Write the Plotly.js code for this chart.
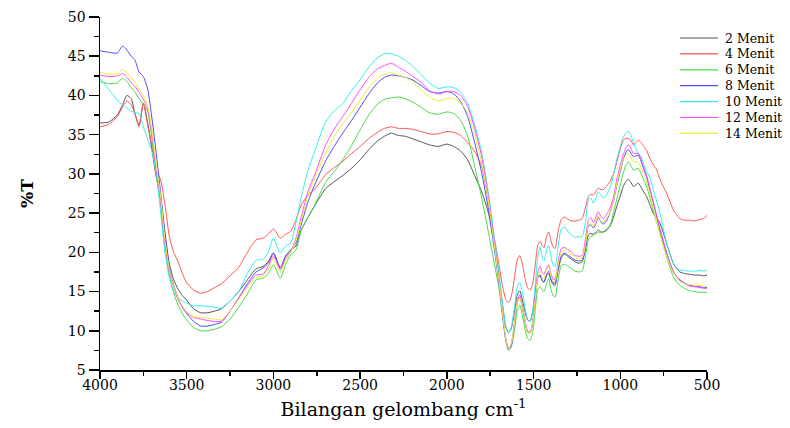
<!DOCTYPE html>
<html>
<head>
<meta charset="utf-8">
<script src="https://cdn.plot.ly/plotly-3.0.1.min.js"></script>
<style>html,body{margin:0;padding:0;background:#fff;}#chart{width:790px;height:428px;}</style>
</head>
<body>
<div id="chart"></div>
<script>
const wavenumber = [4000,3950,3900,3870,3845,3820,3800,3775,3750,3725,
3700,3675,3650,3625,3600,3575,3550,3525,3500,3460,
3420,3380,3340,3300,3250,3200,3150,3100,3060,3030,
3000,2960,2930,2900,2870,2840,2800,2760,2700,2650,
2600,2550,2500,2450,2400,2360,2320,2280,2240,2200,
2150,2100,2050,2000,1960,1920,1880,1840,1800,1760,
1730,1700,1680,1660,1645,1630,1610,1595,1580,1565,
1550,1535,1520,1505,1490,1475,1462,1450,1440,1425,
1413,1400,1388,1376,1360,1340,1320,1300,1280,1260,
1240,1220,1200,1184,1170,1155,1140,1127,1112,1098,
1080,1060,1040,1021,1000,983,968,954,940,925,
910,896,880,865,848,830,810,790,771,752,
733,714,694,675,656,630,600,570,540,520,
500];

const menit2 = [36.5,36.6,37.5,38.8,40.0,39.6,37.8,36.2,39.0,36.5,
33.0,29.5,27.0,22.5,18.5,16.5,15.3,14.5,13.9,12.8,
12.3,12.3,12.5,12.8,13.8,15.0,16.5,17.9,18.2,18.8,
19.9,18.0,19.5,20.3,20.8,22.8,24.5,26.0,28.1,29.0,
29.8,30.7,31.8,33.1,34.2,34.8,35.2,34.9,34.8,34.5,
34.1,33.7,33.5,33.8,33.5,32.9,31.8,29.8,27.8,25.0,
21.5,17.0,13.5,10.5,9.8,10.2,12.5,14.5,15.1,14.0,
12.5,11.4,11.2,12.5,15.0,16.9,17.0,16.4,16.2,17.0,
17.3,16.5,15.9,15.8,17.5,19.3,19.8,19.4,19.1,18.8,
18.6,18.8,20.5,22.2,22.4,22.3,22.6,22.85,22.6,22.6,
22.8,23.3,24.4,25.8,27.2,28.4,29.0,29.3,29.0,28.4,
28.6,28.8,28.3,27.7,27.1,26.1,25.0,24.4,23.7,22.5,
21.15,19.8,18.6,17.9,17.5,17.3,17.2,17.1,17.1,17.0,
17.1];

const menit4 = [36.0,36.3,37.3,38.5,39.3,38.8,37.8,36.0,39.0,36.2,
33.5,30.5,29.2,26.0,22.0,20.0,18.8,17.3,16.1,15.2,
14.8,15.0,15.5,16.0,17.0,18.1,20.0,21.6,21.8,22.3,
23.0,21.8,22.3,22.7,24.1,26.0,27.3,28.1,29.9,30.8,
31.6,32.6,33.5,34.5,35.3,35.8,36.0,35.8,35.8,35.7,
35.4,35.1,35.1,35.4,35.3,34.9,34.0,32.9,31.0,26.5,
22.3,18.5,15.8,14.0,13.6,14.2,16.8,19.0,19.6,18.5,
16.8,15.5,15.2,16.0,18.5,21.0,21.4,20.8,20.6,22.0,
22.6,21.5,20.7,20.5,22.5,24.2,24.5,24.2,24.0,24.0,
24.1,24.3,25.8,27.1,27.4,27.3,27.8,28.2,28.0,28.0,
28.4,29.0,30.0,31.4,33.2,34.3,34.5,34.5,34.3,33.7,
34.0,34.3,34.0,33.5,33.0,32.0,31.2,30.5,29.3,28.4,
27.5,26.5,25.4,24.8,24.3,24.1,24.1,24.0,24.2,24.3,
24.7];

const menit6 = [41.8,41.5,41.6,42.2,41.8,41.0,40.5,39.6,38.9,38.0,
34.3,30.0,26.0,20.5,17.0,14.8,13.3,12.2,11.4,10.4,
10.0,10.0,10.2,10.5,11.5,13.0,14.7,16.5,16.7,17.3,
18.4,16.7,18.5,19.7,20.3,22.8,24.5,26.1,28.9,30.3,
31.8,33.6,35.6,37.5,38.9,39.5,39.7,39.8,39.6,39.2,
38.5,37.8,37.6,37.9,37.7,36.8,34.8,31.0,27.0,22.5,
19.0,15.5,12.0,8.8,7.5,7.8,10.0,12.5,13.3,12.0,
10.3,9.0,8.8,9.8,12.8,15.3,15.6,15.2,15.0,16.0,
16.7,15.3,14.5,14.3,16.3,18.3,18.5,18.2,17.9,17.6,
17.5,17.6,19.5,21.6,22.0,22.2,22.4,22.6,22.5,22.6,
23.0,23.4,25.0,26.7,28.6,30.1,31.1,31.55,31.1,30.5,
30.6,30.7,30.0,29.2,28.4,27.0,25.4,23.8,22.4,20.9,
19.45,18.1,16.9,16.2,15.8,15.4,15.1,15.0,14.9,14.9,
14.9];

const menit8 = [45.7,45.5,45.4,46.3,45.8,45.0,44.6,43.0,42.4,40.8,
37.0,32.5,27.5,22.0,18.0,15.8,14.2,13.0,12.2,11.2,
10.6,10.6,10.8,11.1,12.5,14.2,16.0,17.5,18.0,18.6,
19.9,18.0,19.5,20.3,21.2,23.5,26.5,28.7,31.6,33.5,
35.2,36.8,38.5,40.2,41.6,42.3,42.6,42.5,42.3,42.0,
41.3,40.5,40.3,40.5,40.2,39.2,37.3,34.0,30.2,25.5,
21.0,16.2,12.3,8.8,7.7,8.1,10.8,13.5,14.3,13.0,
11.2,9.9,9.7,11.0,14.0,16.8,17.1,16.4,16.2,17.2,
17.6,16.6,16.1,16.1,17.8,19.6,19.9,19.6,19.3,19.0,
18.9,19.0,20.7,23.4,23.5,23.1,23.7,24.5,23.9,23.6,
24.0,25.0,26.5,28.4,30.3,31.8,32.7,33.1,32.7,32.2,
32.3,32.4,31.6,30.6,29.6,28.0,26.25,24.5,22.85,21.3,
19.9,18.6,17.5,16.9,16.5,16.1,15.8,15.7,15.6,15.5,
15.5];

const menit10 = [42.2,40.8,39.4,38.8,38.4,38.0,37.8,37.7,36.0,34.4,
32.8,30.0,25.0,20.0,16.8,15.0,14.2,13.8,13.5,13.2,
13.2,13.1,13.0,12.9,13.8,15.0,17.3,19.0,19.1,20.0,
21.8,19.9,20.8,21.2,23.8,27.0,30.5,33.0,36.6,38.0,
39.0,40.6,42.0,43.6,44.8,45.3,45.3,45.0,44.5,43.8,
42.7,41.6,40.9,41.1,41.0,40.4,39.0,36.3,32.8,27.5,
22.5,17.5,13.5,10.5,9.7,10.3,13.0,15.5,16.2,15.0,
13.0,11.5,11.2,12.5,16.0,19.5,20.7,19.3,18.9,20.3,
20.9,19.5,18.4,18.2,20.5,23.0,23.2,22.6,22.2,21.9,
22.0,22.0,24.0,26.7,26.9,26.3,27.0,27.7,27.3,26.9,
27.3,28.2,29.8,31.8,33.5,34.7,35.2,35.4,35.0,34.0,
33.2,32.6,32.2,31.2,30.3,29.6,28.0,26.5,25.0,23.0,
21.15,19.8,18.6,18.0,17.75,17.7,17.6,17.6,17.7,17.6,
17.7];

const menit12 = [42.6,42.4,42.5,42.8,42.3,41.6,41.2,40.4,39.5,38.3,
35.0,30.5,26.5,21.0,17.5,15.5,14.0,13.0,12.3,11.7,
11.5,11.3,11.2,11.2,12.5,14.2,15.8,17.1,17.2,18.2,
19.5,17.8,19.2,20.1,21.8,24.5,27.8,30.0,33.6,35.7,
37.3,39.0,40.7,42.3,43.4,43.8,44.1,43.6,43.1,42.5,
41.7,40.6,40.2,40.5,40.5,40.0,38.6,35.8,32.3,27.0,
22.0,16.5,12.5,9.0,7.8,8.2,11.0,13.8,14.6,13.3,
11.5,10.0,9.8,11.2,14.5,17.5,18.2,17.4,17.2,18.0,
18.4,17.3,16.6,16.5,18.5,20.5,20.6,20.3,20.0,19.6,
19.5,19.6,21.8,24.1,24.4,23.8,24.5,25.2,24.6,24.3,
24.8,25.6,27.0,29.2,31.2,32.4,33.3,33.7,33.3,32.6,
32.6,32.6,31.8,30.8,29.8,28.3,26.5,24.7,23.0,21.5,
20.0,18.7,17.6,16.9,16.3,16.0,15.7,15.6,15.5,15.4,
15.4];

const menit14 = [43.0,42.7,42.8,43.3,42.9,42.2,41.8,40.8,40.0,38.7,
35.5,31.0,27.0,21.5,17.8,15.7,14.2,13.2,12.4,11.8,
11.7,11.6,11.5,11.4,12.5,14.0,15.5,16.8,17.0,17.8,
19.2,17.5,19.0,20.0,21.5,24.0,27.3,29.6,32.6,34.8,
36.4,37.8,39.4,41.0,42.2,42.7,42.9,42.6,42.3,41.8,
40.8,39.8,39.3,39.6,39.6,39.0,37.8,35.0,31.5,26.5,
21.5,16.5,12.5,9.0,7.8,8.3,11.0,13.5,14.2,13.0,
11.3,9.8,9.7,11.0,14.0,17.0,17.6,16.8,16.7,17.8,
18.2,17.0,16.4,16.3,18.2,20.0,20.2,20.0,19.7,19.4,
19.2,19.3,21.0,23.6,23.9,23.3,24.0,24.8,24.0,23.8,
24.3,25.0,26.5,28.6,30.6,31.7,32.4,32.6,32.2,31.5,
31.6,31.5,30.8,30.0,29.0,27.6,25.8,24.0,22.3,20.8,
19.5,18.3,17.4,16.8,16.3,16.0,15.9,15.8,15.8,15.7,
15.7];

const seriesNames = ["2 Menit","4 Menit","6 Menit","8 Menit","10 Menit","12 Menit","14 Menit"];
const seriesValues = [menit2, menit4, menit6, menit8, menit10, menit12, menit14];
const seriesColors = ["#555555","#ff5555","#44dd44","#4d4dff","#33eeee","#ff4dff","#eeee33"];

const traces = seriesNames.map((n, i) => ({
  x: wavenumber, y: seriesValues[i], name: n, type: "scatter", mode: "lines",
  line: {color: seriesColors[i], width: 1, shape: "spline", smoothing: 0.6},
  showlegend: false
}));

// manual legend (compact spacing like the original), in paper coordinates
const PL = 100, PW = 607, PT = 17, PH = 353;
const px2x = p => (p - PL) / PW;
const py2y = p => 1 - (p - PT) / PH;
const legTop = 38, legStep = 15.9;
const shapes = [], annotations = [];
seriesNames.forEach((n, i) => {
  const yy = py2y(legTop + i * legStep);
  shapes.push({type: "line", xref: "paper", yref: "paper", x0: px2x(680), x1: px2x(718), y0: yy, y1: yy,
               line: {color: seriesColors[i], width: 1.2}});
  annotations.push({xref: "paper", yref: "paper", x: px2x(723), y: yy, xanchor: "left", yanchor: "middle",
                    text: n, showarrow: false, font: {family: "DejaVu Serif, serif", size: 12.5, color: "#000"}});
});

const FONT = "DejaVu Serif, serif";
const layout = {
  width: 790, height: 428,
  margin: {l: 100, r: 83, t: 17, b: 58},
  paper_bgcolor: "#fff", plot_bgcolor: "#fff",
  font: {family: FONT, color: "#000", size: 14},
  showlegend: false,
  shapes: shapes, annotations: annotations,
  xaxis: {
    range: [4000, 500], autorange: false, showgrid: false, zeroline: false,
    showline: true, linecolor: "#000", linewidth: 1.5,
    ticks: "outside", ticklen: 7, tickwidth: 1.5, tickcolor: "#000",
    tickmode: "linear", tick0: 500, dtick: 500, ticklabelstandoff: -5,
    minor: {dtick: 250, tick0: 500, ticks: "outside", ticklen: 4, tickwidth: 1.5, tickcolor: "#000"},
    tickfont: {family: FONT, size: 14},
    title: {text: "Bilangan gelombang cm<sup>-1</sup>", font: {family: FONT, size: 19}, standoff: 10}
  },
  yaxis: {
    range: [5, 50], autorange: false, showgrid: false, zeroline: false,
    showline: true, linecolor: "#000", linewidth: 1.5,
    ticks: "outside", ticklen: 10, tickwidth: 1.5, tickcolor: "#000",
    tickmode: "linear", tick0: 5, dtick: 5,
    minor: {dtick: 2.5, tick0: 5, ticks: "outside", ticklen: 5, tickwidth: 1.5, tickcolor: "#000"},
    tickfont: {family: FONT, size: 14},
    title: {text: "<b>%T</b>", font: {family: FONT, size: 17}, standoff: 30}
  }
};

Plotly.newPlot("chart", traces, layout, {displayModeBar: false, staticPlot: true});
</script>
</body>
</html>
